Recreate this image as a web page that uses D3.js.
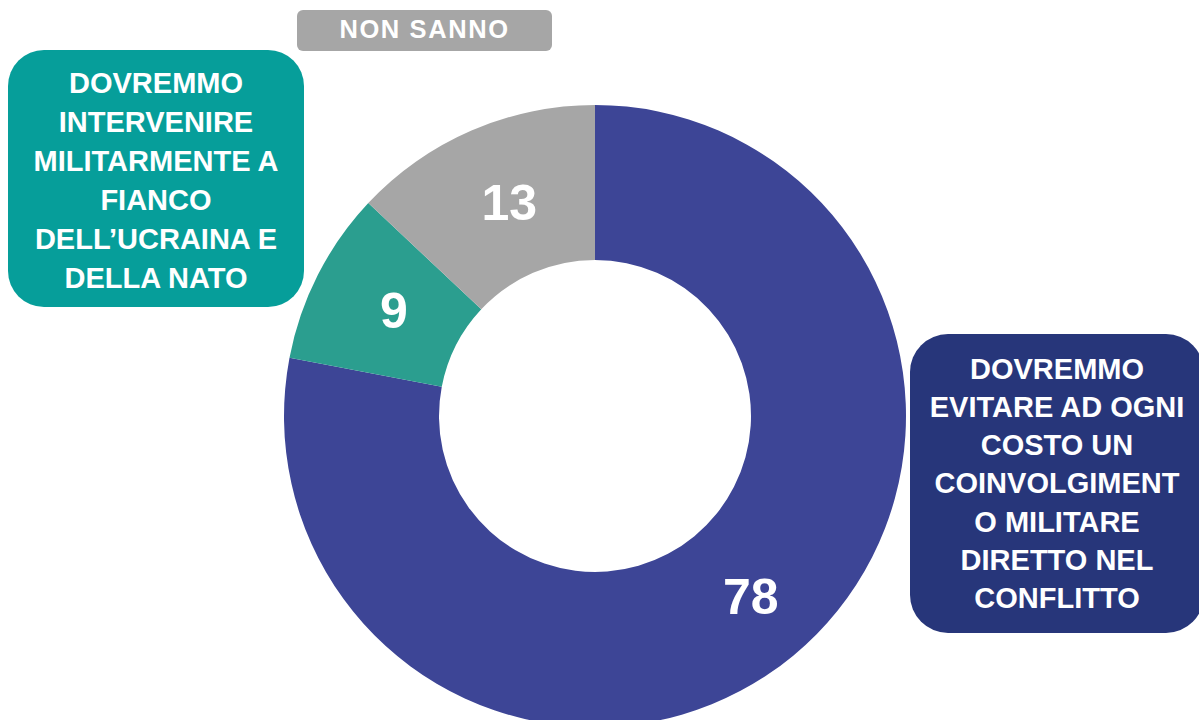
<!DOCTYPE html>
<html>
<head>
<meta charset="utf-8">
<script src="https://cdn.jsdelivr.net/npm/d3@7"></script>
<style>
  html, body { margin: 0; padding: 0; background: #fff; }
  svg { display: block; font-family: "Liberation Sans", Arial, sans-serif; }
</style>
</head>
<body>
<svg id="chart" width="1199" height="720"></svg>
<script>
"use strict";

// data
const categories = ["Evitare coinvolgimento", "Intervenire", "Non sanno"];
const values = [78, 9, 13];
const sliceColors = ["#3d4596", "#2b9e8f", "#a6a6a6"];

const evitareLines = ["DOVREMMO", "EVITARE AD OGNI", "COSTO UN", "COINVOLGIMENT", "O MILITARE", "DIRETTO NEL", "CONFLITTO"];
const intervenireLines = ["DOVREMMO", "INTERVENIRE", "MILITARMENTE A", "FIANCO", "DELL\u2019UCRAINA E", "DELLA NATO"];
const nonSannoLabel = "NON SANNO";

const svg = d3.select("#chart");

let cx = 595, cy = 416,
  outerR = 311, innerR = 156;

let data = categories.map((c, i) => ({ name: c, value: values[i], color: sliceColors[i] }));

let pie = d3.pie()
  .sort(null)
  .value(d => d.value);

let arc = d3.arc()
  .innerRadius(innerR)
  .outerRadius(outerR);

let g = svg.append("g").attr("transform", "translate(" + cx + "," + cy + ")");

let arcs = pie(data);

g.selectAll("path.slice")
  .data(arcs)
  .enter().append("path")
  .attr("class", "slice")
  .attr("fill", d => d.data.color)
  .attr("d", arc);

// labels sit a few px right of the centroid in the original
g.selectAll("text.val")
  .data(arcs)
  .enter().append("text")
  .attr("class", "val")
  .attr("transform", d => "translate(" + arc.centroid(d) + ")")
  .attr("text-anchor", "middle")
  .attr("dx", 7)
  .attr("dy", "0.36em")
  .attr("fill", "#fff")
  .attr("font-weight", "bold")
  .attr("font-size", 50)
  .text(d => d.data.value);

// callout boxes
function box(x, y, w, h, r, fill, lines, firstBase, step, size, spacing) {
  svg.append("rect")
    .attr("x", x).attr("y", y)
    .attr("width", w).attr("height", h)
    .attr("rx", r).attr("ry", r)
    .attr("fill", fill);
  let t = svg.append("text")
    .attr("text-anchor", "middle")
    .attr("fill", "#fff")
    .attr("font-weight", "bold")
    .attr("font-size", size)
    .attr("letter-spacing", spacing || 0);
  lines.forEach((l, i) => {
    t.append("tspan")
      .attr("x", x + w / 2)
      .attr("y", firstBase + i * step)
      .text(l);
  });
}

box(8, 50, 296, 257, 36, "#069e9a", intervenireLines, 92.5, 39, 29);
box(910, 334, 294, 299, 38, "#27367a", evitareLines, 378.5, 38.3, 29);
box(297, 10, 255, 41, 6, "#a6a6a6", [nonSannoLabel], 37.5, 0, 25.5, 1.6);
</script>
</body>
</html>
